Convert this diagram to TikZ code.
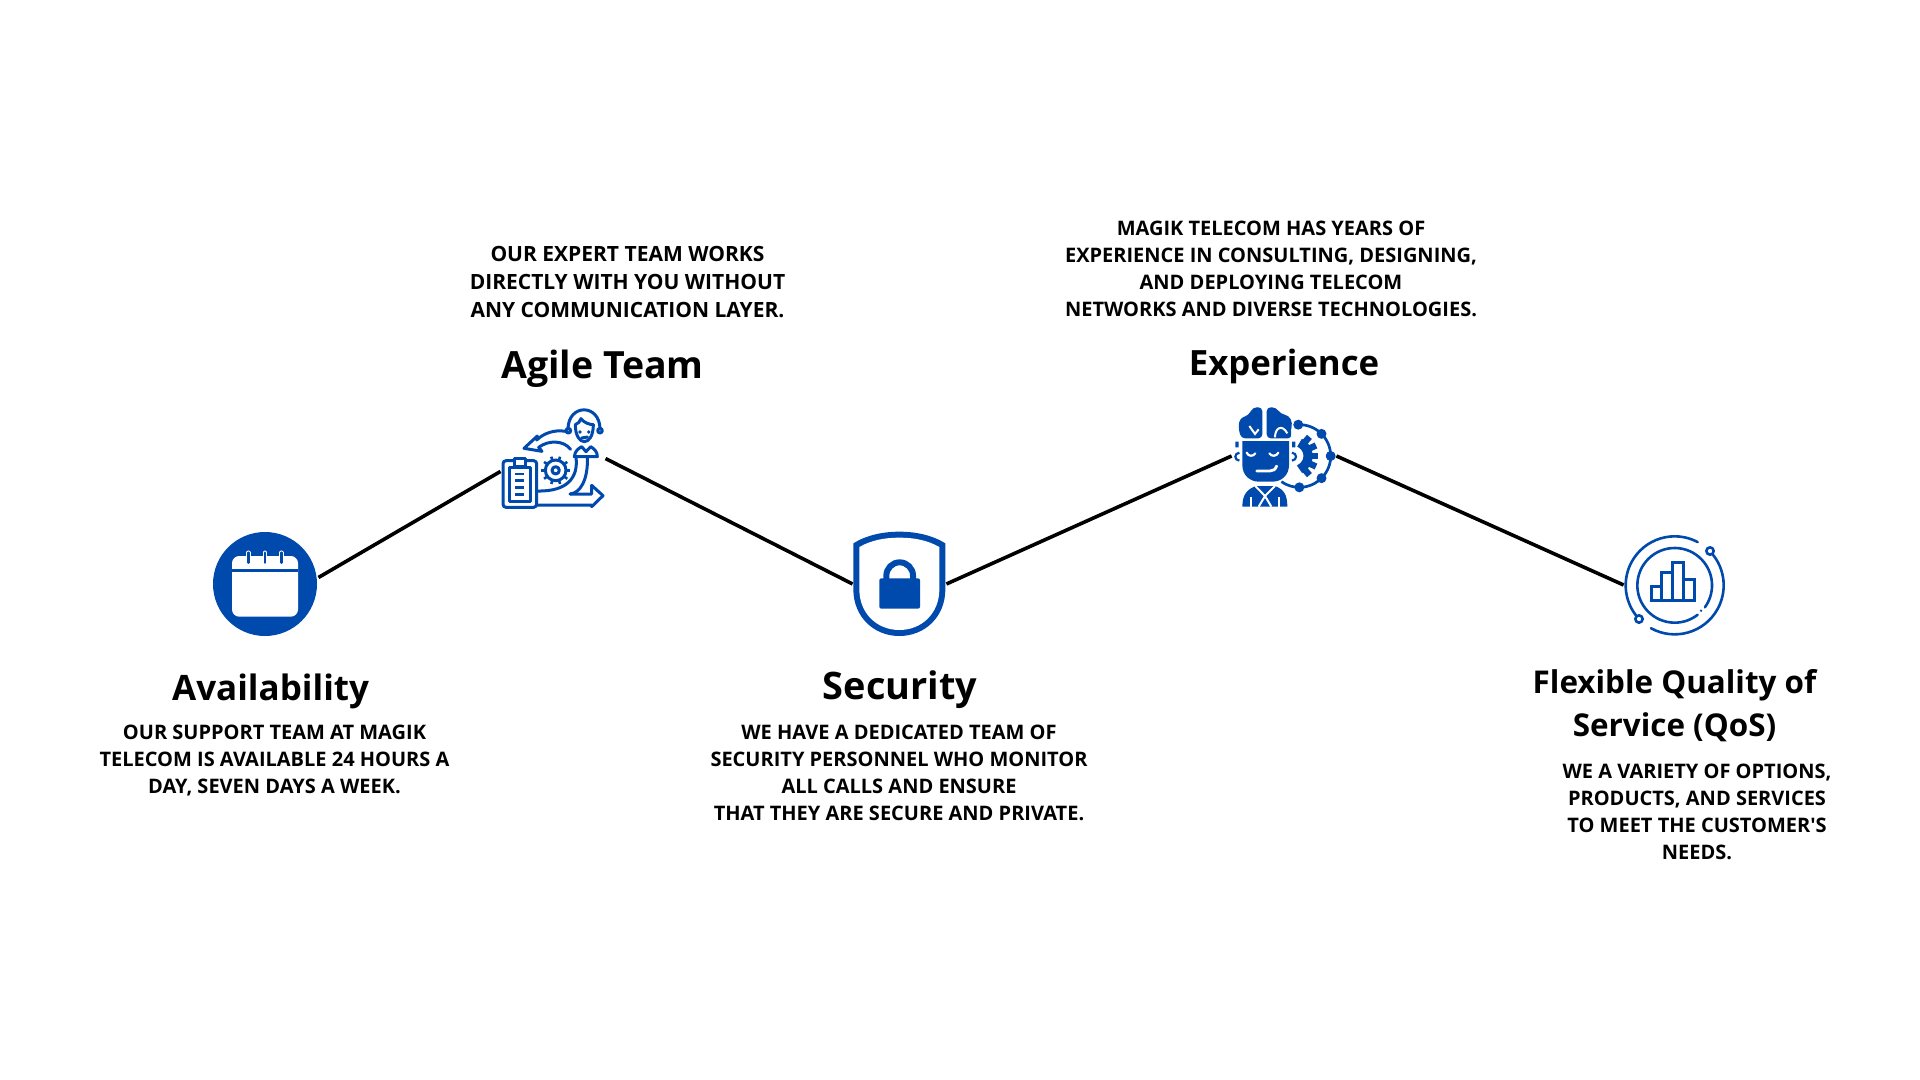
\documentclass[tikz,border=0pt]{standalone}
\usepackage{fontspec}
\setmainfont{Open Sans}
\usepackage{xcolor}
\usetikzlibrary{positioning}
\definecolor{magikblue}{HTML}{004AAD}

\tikzset{
  headtext/.style={font=\fontsize{#1}{21.5}\selectfont\bfseries,text=black,align=center,inner sep=0},
  bodytext/.style={font=\fontsize{10}{13.55}\selectfont\bfseries,text=black,align=center,inner sep=0},
  iconspot/.style={circle,draw=none,inner sep=0},
  linkline/.style={black,line width=1.8pt},
  zoomgrid/.style={x=0.16667pt,y=-0.16667pt},
  bluestroke/.style={draw=magikblue,line width=1.5pt,line join=round,line cap=round},
  bluefill/.style={fill=magikblue,draw=none}
}

\begin{document}
\begin{tikzpicture}[x=0.5pt,y=-0.5pt]
  \useasboundingbox (0,0) rectangle (1920,1080);

  % anchors of the icons
  \node[iconspot,minimum size=53.6pt] (calicon) at (265,585) {};
  \node[iconspot,minimum size=52.5pt] (agileicon) at (553,465) {};
  \node[iconspot,minimum size=46.5pt] (lockicon) at (899.5,584) {};
  \node[iconspot,minimum size=52pt] (expicon) at (1284,456) {};
  \node[iconspot,minimum size=50pt] (qosicon) at (1674,585) {};

  \draw[linkline] (calicon.8.4) -- (agileicon.187.7);
  \draw[linkline] (agileicon.7.7) -- (lockicon.180);
  \draw[linkline] (lockicon.0) -- (expicon.180);
  \draw[linkline] (expicon.0) -- (qosicon.180);

  % calendar
  \begin{scope}[shift={(190,510)},zoomgrid]
    \fill[magikblue] (225,222) circle[radius=156];
    \fill[white,rounded corners=3.6pt] (126,138) rectangle (324,320);
    \fill[magikblue] (126,176) rectangle (324,187);
    \foreach \tx in {175,225,274}{
      \draw[white,line width=2.2pt,line cap=round] (\tx,128) -- (\tx,150);
      \draw[magikblue,line width=1.3pt,line cap=round] (\tx,128) -- (\tx,158);
    }
  \end{scope}

  % team, gear and clipboard
  \begin{scope}[shift={(480,390)},zoomgrid]
    \draw[bluestroke] (264,118) .. controls (264,40) and (360,40) .. (360,118);
    \draw[bluestroke] (286,104) .. controls (286,172) and (340,172) .. (340,104);
    \draw[bluestroke] (286,104) .. controls (295,100) and (300,95) .. (303,86)
      .. controls (312,98) and (328,104) .. (340,104);
    \fill[magikblue] (300,126) circle[radius=5.5] (326,126) circle[radius=5.5];
    \draw[bluestroke] (305,144) -- (322,141);
    \draw[bluestroke] (265,122) circle[radius=7];
    \draw[bluestroke] (360,122) circle[radius=7];
    \draw[bluestroke] (283,200) .. controls (285,182) and (295,176) .. (305,170)
      -- (318,185) -- (332,170) .. controls (342,176) and (352,184) .. (352,200) -- cycle;
    \draw[bluestroke] (256,124) .. controls (225,118) and (190,130) .. (170,150)
      -- (172,138) -- (132,175) -- (186,184) -- (176,172)
      .. controls (205,150) and (250,150) .. (272,178);
    \draw[bluestroke] (322,200) .. controls (325,270) and (300,310) .. (270,312);
    \draw[bluestroke] (288,202) .. controls (295,260) and (265,305) .. (172,303);
    \draw[bluestroke] (172,345) -- (335,345) -- (335,350) -- (369,317) -- (335,286) -- (335,312) -- (270,312);
    \draw[bluestroke] (227,241) circle[radius=31];
    \draw[bluestroke] (227,241) circle[radius=11];
    \foreach \ang in {0,36,...,324}{
      \draw[magikblue,line width=1.3pt] (227,241) ++(\ang:32) -- ++(\ang:11);
    }
    \fill[white] (70,210) rectangle (168,350);
    \draw[bluestroke,rounded corners=1.5pt] (69,212) rectangle (170,352);
    \draw[bluestroke] (87,232) rectangle (150,333);
    \filldraw[fill=white,bluestroke] (102,204) rectangle (136,228);
    \foreach \ly in {252,272,293,313}{
      \draw[magikblue,line width=1.3pt] (105,\ly) -- (133,\ly);
    }
  \end{scope}

  % shield and lock
  \begin{scope}[shift={(830,510)},zoomgrid]
    \fill[magikblue] (70,100) .. controls (110,75) and (160,65) .. (208,65)
      .. controls (256,65) and (306,75) .. (346,100) -- (346,238)
      .. controls (346,320) and (285,378) .. (208,378)
      .. controls (131,378) and (70,320) .. (70,238) -- cycle;
    \fill[white] (88,111) .. controls (125,90) and (165,83) .. (208,83)
      .. controls (251,83) and (291,90) .. (328,111) -- (328,238)
      .. controls (328,310) and (275,360) .. (208,360)
      .. controls (141,360) and (88,310) .. (88,238) -- cycle;
    \fill[magikblue,rounded corners=1pt] (148,205) rectangle (270,296);
    \draw[magikblue,line width=3pt] (169,212) -- (169,197) arc[start angle=180,end angle=360,radius=40] -- (249,212);
  \end{scope}

  % head with brain and gear
  \begin{scope}[shift={(1210,390)},zoomgrid]
    \fill[magikblue,rounded corners=2pt] (157,52) -- (128,52) -- (116,76) -- (90,84) -- (85,112) -- (93,145) -- (157,145) -- cycle;
    \fill[magikblue,rounded corners=2pt] (170,52) -- (198,52) -- (212,72) -- (236,76) -- (248,100) -- (241,122) -- (246,145) -- (170,145) -- cycle;
    \draw[white,line width=1pt] (118,108) -- (135,132) -- (146,118);
    \draw[white,line width=1pt] (195,142) .. controls (195,115) and (215,100) .. (232,130);
    \fill[magikblue] (97,153) -- (237,153) -- (237,225)
      .. controls (237,255) and (215,275) .. (187,275) -- (147,275)
      .. controls (119,275) and (97,255) .. (97,225) -- cycle;
    \draw[white,line width=1.1pt,line cap=round] (110,188) .. controls (115,200) and (130,200) .. (136,190);
    \draw[white,line width=1.1pt,line cap=round] (178,190) .. controls (184,200) and (199,200) .. (205,188);
    \draw[white,line width=1.4pt,line cap=round] (140,243) -- (180,243) .. controls (190,243) and (196,238) .. (200,228);
    \fill[magikblue] (76,155) rectangle (86,172) (246,155) rectangle (256,172);
    \draw[magikblue,line width=1.1pt] (88,188) .. controls (72,190) and (72,210) .. (88,212);
    \draw[magikblue,line width=1.1pt] (246,188) .. controls (262,190) and (262,210) .. (246,212);
    \fill[magikblue] (97,350) .. controls (97,315) and (110,298) .. (138,288) -- (195,288)
      .. controls (222,298) and (232,315) .. (232,350) -- cycle;
    \draw[white,line width=1pt] (122,350) -- (122,322) (208,350) -- (208,322);
    \draw[white,line width=1pt] (136,288) -- (165,318) -- (195,288);
    \draw[white,line width=1pt] (165,318) -- (146,350) (165,318) -- (184,350);
    % gear part
    \draw[magikblue,line width=4.6pt] (250,198) ++(-65:44) arc[start angle=-65,end angle=65,radius=44];
    \foreach \ang in {-50,-25,0,25,50}{
      \draw[magikblue,line width=3.2pt] (250,198) ++(\ang:54) -- ++(\ang:21);
    }
    % orbit with dots
    \draw[magikblue,line width=1.35pt] (268,198) ++(-92:94) arc[start angle=-92,end angle=125,radius=94];
    \foreach \ang in {-92,-45,0,45,90}{
      \fill[magikblue] (268,198) ++(\ang:94) circle[radius=15];
    }
  \end{scope}

  % chart in rings
  \begin{scope}[shift={(1600,510)},zoomgrid]
    \draw[bluestroke,line width=1.3pt] (224,226) ++(-62:147) arc[start angle=-62,end angle=-218,radius=147];
    \draw[bluestroke,line width=1.3pt] (224,226) ++(119:147) arc[start angle=119,end angle=-40,radius=147];
    \draw[bluestroke,line width=1.3pt] (224,226) ++(52:112) arc[start angle=52,end angle=396,radius=112];
    \fill[magikblue] (303,302) circle[radius=4];
    \filldraw[fill=white,bluestroke,line width=1.3pt] (117,327) circle[radius=11];
    \filldraw[fill=white,bluestroke,line width=1.3pt] (330,123) circle[radius=11];
    \foreach \bl/\br/\bt in {155/185/230,185/218/188,218/250/157,250/282/207}{
      \draw[bluestroke,line cap=butt,line join=miter] (\bl,272) rectangle (\br,\bt);
    }
  \end{scope}

  % titles
  \node[headtext=17.5] (availhead) at (270.6,691) {Availability};
  \node[headtext=18.75] (agilehead) at (602.5,369) {Agile Team};
  \node[headtext=18.95] (securehead) at (900,690) {Security};
  \node[headtext=17.4] (exphead) at (1284,366) {Experience};
  \node[headtext=15.7] (qoshead) at (1674.5,706) {Flexible Quality of\\Service (QoS)};

  % descriptions
  \node[bodytext] (availtext) at (274.5,760.5) {OUR SUPPORT TEAM AT MAGIK\\TELECOM IS AVAILABLE 24 HOURS A\\DAY, SEVEN DAYS A WEEK.};
  \node[bodytext,font=\fontsize{10.5}{14.2}\selectfont\bfseries] (agiletext) at (627.5,282) {OUR EXPERT TEAM WORKS\\DIRECTLY WITH YOU WITHOUT\\ANY COMMUNICATION LAYER.};
  \node[bodytext] (securetext) at (899,773) {WE HAVE A DEDICATED TEAM OF\\SECURITY PERSONNEL WHO MONITOR\\ALL CALLS AND ENSURE\\THAT THEY ARE SECURE AND PRIVATE.};
  \node[bodytext] (exptext) at (1271,269) {MAGIK TELECOM HAS YEARS OF\\EXPERIENCE IN CONSULTING, DESIGNING,\\AND DEPLOYING TELECOM\\NETWORKS AND DIVERSE TECHNOLOGIES.};
  \node[bodytext] (qostext) at (1697,812) {WE A VARIETY OF OPTIONS,\\PRODUCTS, AND SERVICES\\TO MEET THE CUSTOMER\textquotesingle S\\NEEDS.};
\end{tikzpicture}
\end{document}
